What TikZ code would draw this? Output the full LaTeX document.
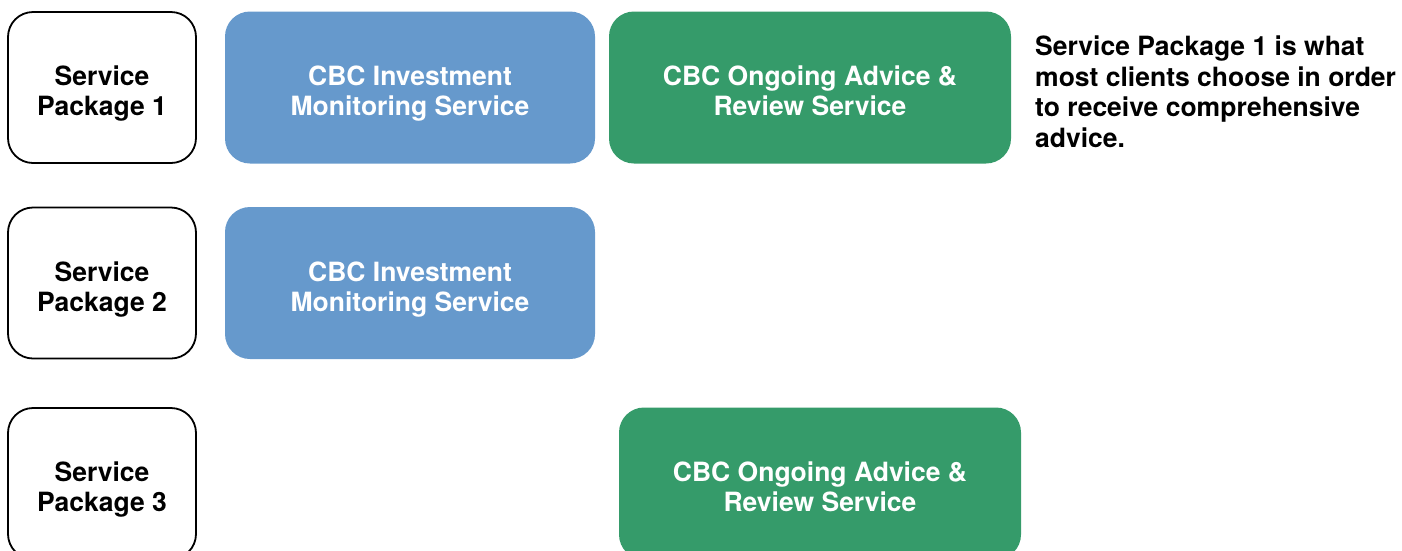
\documentclass[tikz,border=0pt]{standalone}
\usepackage{fontspec}
\setmainfont{TeX Gyre Heros}
\definecolor{monblue}{RGB}{102,153,204}
\definecolor{advgreen}{RGB}{53,155,106}
\begin{document}
\begin{tikzpicture}[x=1pt,y=-1pt,
  lbl/.style={font=\bfseries\fontsize{26.5}{30.5}\selectfont,align=center,inner sep=0pt},
  box/.style={rounded corners=25pt,minimum height=152pt,inner sep=0pt},
  pkgbox/.style={box,draw=black,line width=1.8pt,fill=white,
    minimum width=188pt,minimum height=151pt},
  monbox/.style={box,fill=monblue,minimum width=370pt},
  advbox/.style={box,fill=advgreen,minimum width=402pt},
  wlbl/.style={lbl,text=white},
  note/.style={align=left,anchor=north west,inner sep=0pt,
    font=\bfseries\fontsize{26.5}{30.5}\selectfont}]
\useasboundingbox (0,0) rectangle (1402,550);
\clip (0,0) rectangle (1402,550);
% row 1
\node[pkgbox] (p1) at (102,87.5) {};
\node[lbl] (p1t) at (102,94.5) {\strut Service\\\strut Package 1};
\node[monbox] (m1) at (410,87.5) {};
\node[wlbl] (m1t) at (410,94.5) {\strut CBC Investment\\\strut Monitoring Service};
\node[advbox] (a1) at (810,87.5) {};
\node[wlbl] (a1t) at (810,94.5) {\strut CBC Ongoing Advice \&\\\strut Review Service};
\node[note] (n1) at (1035,36) {Service Package 1 is what\\most clients choose in order\\to receive comprehensive\\advice.};
% row 2
\node[pkgbox] (p2) at (102,283) {};
\node[lbl] (p2t) at (102,290.5) {\strut Service\\\strut Package 2};
\node[monbox] (m2) at (410,283) {};
\node[wlbl] (m2t) at (410,290.5) {\strut CBC Investment\\\strut Monitoring Service};
% row 3
\node[pkgbox] (p3) at (102,483.5) {};
\node[lbl] (p3t) at (102,490.5) {\strut Service\\\strut Package 3};
\node[advbox] (a3) at (820,483.5) {};
\node[wlbl] (a3t) at (820,490.5) {\strut CBC Ongoing Advice \&\\\strut Review Service};
\end{tikzpicture}
\end{document}
